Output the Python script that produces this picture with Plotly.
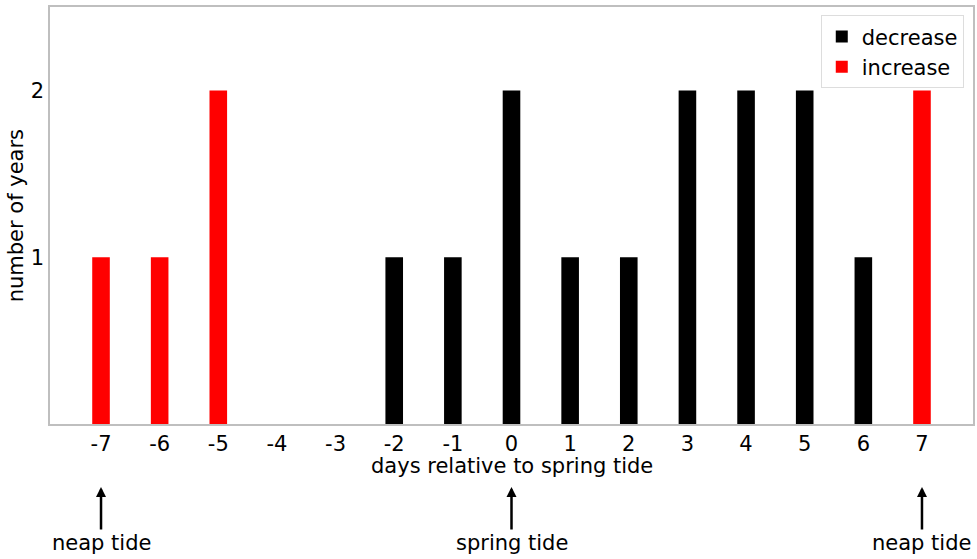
import plotly.graph_objects as go

days = list(range(-7, 8))
dec_days = [-2, -1, 0, 1, 2, 3, 4, 5, 6]
dec_counts = [1, 1, 2, 1, 1, 2, 2, 2, 1]
inc_days = [-7, -6, -5, 7]
inc_counts = [1, 1, 2, 2]
y_ticks = [1, 2]
arrow_days = [-7, 0, 7]
arrow_labels = ["neap tide", "spring tide", "neap tide"]

FONT = "DejaVu Sans"
FS = 21

fig = go.Figure()
fig.add_trace(go.Bar(x=dec_days, y=dec_counts, name="decrease",
                     marker=dict(color="black", line=dict(width=0)), width=0.3))
fig.add_trace(go.Bar(x=inc_days, y=inc_counts, name="increase",
                     marker=dict(color="red", line=dict(width=0)), width=0.3))

for d, lab in zip(arrow_days, arrow_labels):
    fig.add_annotation(x=d, xref="x", y=-0.151, yref="paper",
                       text=lab, showarrow=True, ax=0, ay=56,
                       arrowhead=2, arrowsize=0.8, arrowwidth=2.5, arrowcolor="black",
                       font=dict(family=FONT, size=FS, color="black"))

# axis titles
fig.add_annotation(x=0.5, xref="paper", y=-0.1, yref="paper", text="days relative to spring tide",
                   showarrow=False, xanchor="center", yanchor="middle",
                   font=dict(family=FONT, size=FS, color="black"))
fig.add_annotation(x=-0.037, xref="paper", y=0.5, yref="paper", text="number of years",
                   showarrow=False, xanchor="center", yanchor="middle", textangle=-90,
                   font=dict(family=FONT, size=FS, color="black"))

fig.update_layout(
    width=977, height=559,
    margin=dict(l=50, r=4, t=7, b=135),
    paper_bgcolor="white", plot_bgcolor="white",
    barmode="overlay",
    font=dict(family=FONT, size=FS, color="black"),
    showlegend=True,
    legend=dict(x=0.99, y=0.98, xanchor="right", yanchor="top",
                bordercolor="#dddddd", borderwidth=1, bgcolor="white",
                font=dict(family=FONT, size=FS), traceorder="normal"),
    xaxis=dict(range=[-7.87, 7.87], tickmode="array", tickvals=days,
               ticktext=[str(d) for d in days], showgrid=False, zeroline=False,
               showline=True, linecolor="#bfbfbf", linewidth=1.5, mirror=True,
               ticks="", automargin=False,
               tickfont=dict(family=FONT, size=FS)),
    yaxis=dict(range=[0, 2.5], tickmode="array", tickvals=y_ticks,
               showgrid=False, zeroline=False,
               showline=True, linecolor="#bfbfbf", linewidth=1.5, mirror=True,
               ticks="", automargin=False,
               tickfont=dict(family=FONT, size=FS)),
)

fig.write_html("out.html", config={"displayModeBar": False},
               post_script="document.body.style.margin='0';document.body.style.padding='0';")
